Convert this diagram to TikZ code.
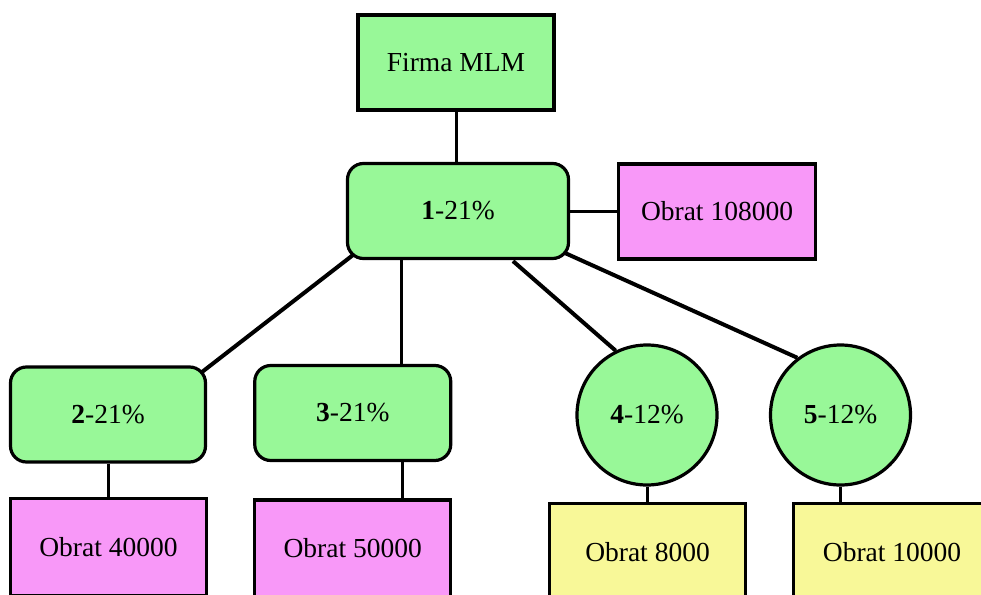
\documentclass[tikz,border=0pt]{standalone}
\usepackage{fontspec}
\setmainfont{Liberation Serif}
\usetikzlibrary{calc}
\definecolor{mgreen}{HTML}{98F898}
\definecolor{mpink}{HTML}{F898F8}
\definecolor{myellow}{HTML}{F8F898}
\begin{document}
\begin{tikzpicture}[x=1pt,y=-1pt,
  every node/.style={font=\fontsize{27.5}{31}\selectfont, inner sep=0pt},
  sqbox/.style={draw, line width=3.2pt, rectangle, minimum width=196pt, minimum height=95pt},
  rbox/.style={sqbox, rounded corners=16pt, fill=mgreen},
  gbox/.style={sqbox, fill=mgreen},
  pbox/.style={sqbox, fill=mpink},
  ybox/.style={sqbox, fill=myellow},
  cbox/.style={draw, line width=3.2pt, circle, minimum size=140pt, fill=mgreen},
  conn/.style={line width=3pt},
  dconn/.style={line width=4pt}]
\useasboundingbox (0,0) rectangle (981,594);
\clip (0,0) rectangle (981,594);
% nodes
\node[gbox] (firma) at (456,62.5) {Firma MLM};
\node[rbox, minimum width=221pt] (n1) at (458,211) {\textbf{1}-21\%};
\node[pbox, minimum width=197pt] (o1) at (717,211.5) {Obrat 108000};
\node[rbox, minimum width=195pt] (n2) at (108,414.5) {\textbf{2}-21\%};
\node[rbox] (n3) at (352.75,413) {\textbf{3}-21\%};
\node[cbox] (n4) at (647,415) {\textbf{4}-12\%};
\node[cbox] (n5) at (840.5,415) {\textbf{5}-12\%};
\node[pbox, minimum height=97pt] (o2) at (108.5,547) {Obrat 40000};
\node[pbox, minimum height=97pt] (o3) at (352.75,548.5) {Obrat 50000};
\node[ybox, minimum height=97pt] (o4) at (647.5,552) {Obrat 8000};
\node[ybox, minimum height=97pt, minimum width=197pt] (o5) at (892,552) {Obrat 10000};
% helper coordinates
\coordinate (c3top) at ($(n3.north)+(48.5,0)$);
\coordinate (c3bot) at ($(n3.south)+(50,0)$);
% connectors
\draw[conn] (firma.south) -- (firma.south |- n1.north);
\draw[conn] (n1.east) -- (n1.east -| o1.west);
\draw[dconn] ($(n1.center)+(-105,44)$) -- ($(n2.center)+(94,-42.5)$);
\draw[conn] (c3top |- n1.south) -- (c3top);
\draw[dconn] ($(n1.south)+(55,1)$) -- (n4.116);
\draw[dconn] ($(n1.center)+(107,42)$) -- (n5.127);
\draw[conn] (n2.south) -- (n2.south |- o2.north);
\draw[conn] (c3bot) -- (c3bot |- o3.north);
\draw[conn] (n4.south) -- (n4.south |- o4.north);
\draw[conn] (n5.south) -- (n5.south |- o5.north);
\end{tikzpicture}
\end{document}
